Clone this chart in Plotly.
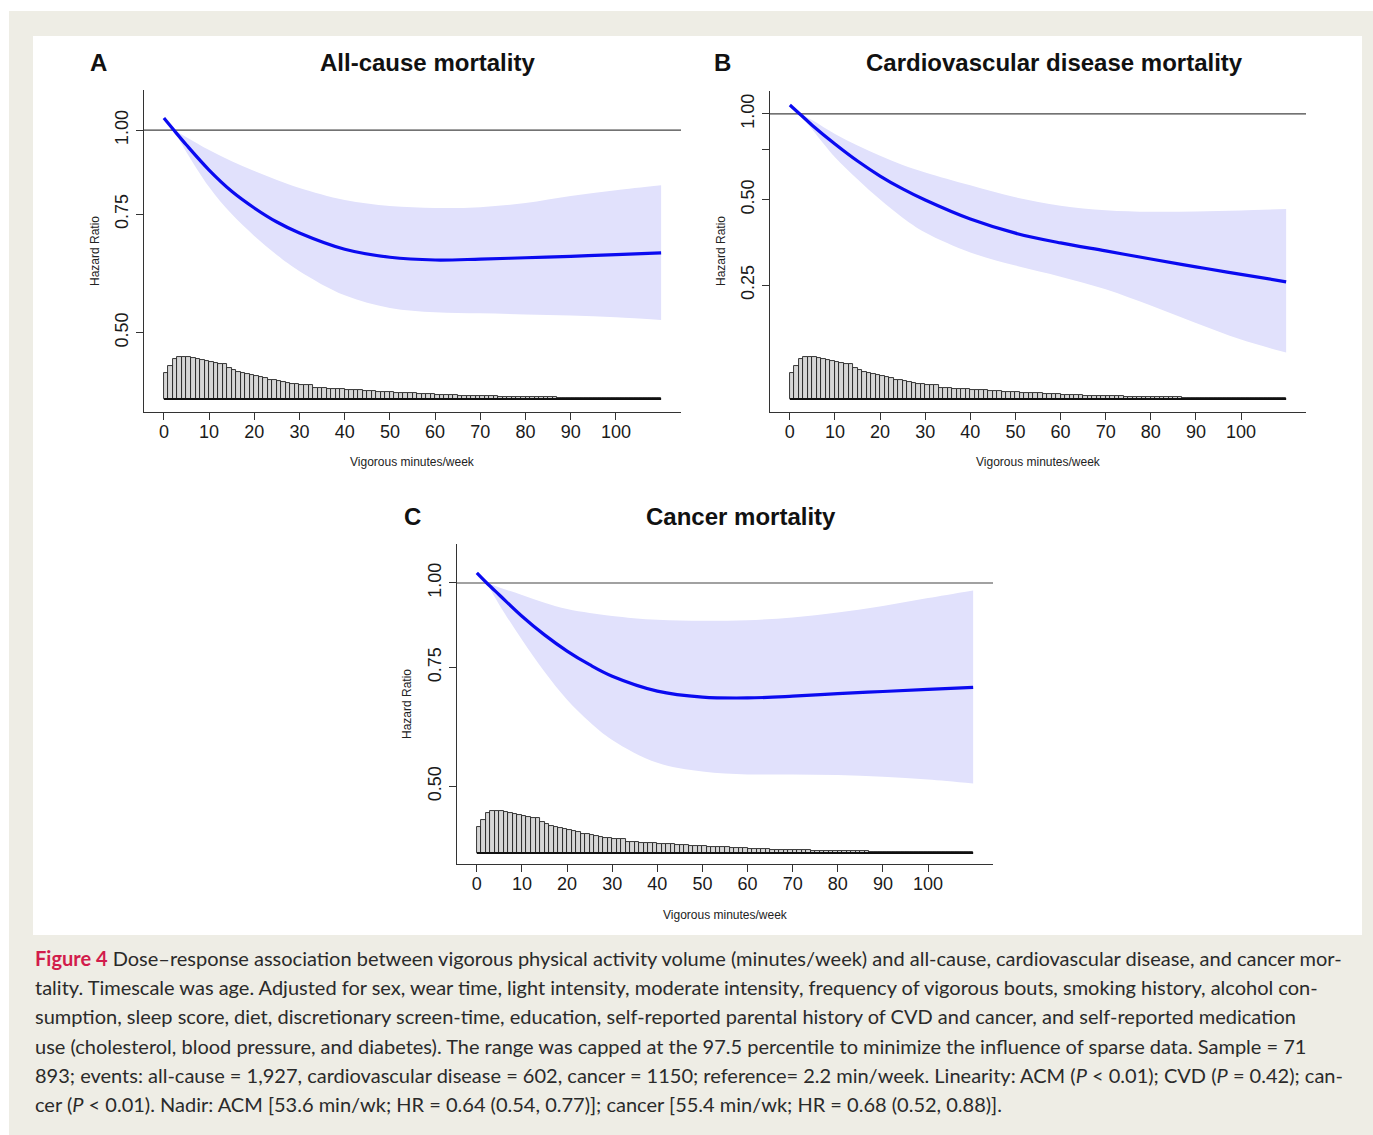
import math
import plotly.graph_objects as go

# ---------------- data ----------------
X_GRID = [0, 2.2, 5, 10, 15, 20, 25, 30, 40, 50, 60, 70, 80, 90, 100, 110]
CI_GRID = [2.2, 5, 10, 15, 20, 25, 30, 40, 50, 60, 70, 80, 90, 100, 110]

ACM_HR = [1.042, 1.000, 0.950, 0.872, 0.811, 0.766, 0.730, 0.703, 0.665, 0.647, 0.641, 0.643, 0.646, 0.649, 0.653, 0.657]
ACM_UPPER = [1.000, 0.976, 0.934, 0.899, 0.869, 0.843, 0.820, 0.787, 0.771, 0.766, 0.768, 0.779, 0.798, 0.814, 0.828]
ACM_LOWER = [1.000, 0.927, 0.823, 0.750, 0.696, 0.652, 0.617, 0.568, 0.544, 0.536, 0.534, 0.532, 0.530, 0.527, 0.522]

CVD_HR = [1.075, 1.000, 0.911, 0.784, 0.683, 0.605, 0.545, 0.498, 0.427, 0.381, 0.352, 0.330, 0.309, 0.290, 0.273, 0.257]
CVD_UPPER = [1.000, 0.950, 0.850, 0.775, 0.713, 0.662, 0.623, 0.561, 0.509, 0.476, 0.459, 0.453, 0.454, 0.458, 0.463]
CVD_LOWER = [1.000, 0.880, 0.705, 0.590, 0.500, 0.432, 0.383, 0.326, 0.293, 0.268, 0.242, 0.212, 0.184, 0.161, 0.145]

CANCER_HR = [1.035, 1.000, 0.960, 0.893, 0.838, 0.793, 0.757, 0.728, 0.692, 0.678, 0.676, 0.680, 0.686, 0.691, 0.696, 0.701]
CANCER_UPPER = [1.000, 0.985, 0.960, 0.935, 0.915, 0.903, 0.894, 0.882, 0.879, 0.881, 0.889, 0.904, 0.925, 0.950, 0.975]
CANCER_LOWER = [1.000, 0.928, 0.824, 0.739, 0.672, 0.623, 0.586, 0.542, 0.526, 0.521, 0.521, 0.520, 0.517, 0.512, 0.505]

# distribution of vigorous minutes/week (1-min bins, relative frequency)
HIST_HEIGHTS = [
    78, 98, 120, 124, 125, 125, 123, 118, 116, 113,
    110, 108, 103, 105, 93, 86, 81, 76, 75, 70,
    68, 66, 62, 58, 56, 54, 51, 48, 45, 44,
    42, 43, 43, 34, 33, 32, 31, 30, 30, 29,
    28, 27, 26, 26, 25, 24, 23, 22, 21, 20,
    20, 19, 18, 18, 17, 17, 16, 15, 15, 14,
    13, 12, 12, 11, 11, 10, 10, 10, 9, 9,
    9, 8, 8, 8, 7, 7, 7, 7, 6, 6,
    6, 6, 5, 5, 5, 5, 5, 4, 4, 4,
    4, 4, 4, 3, 3, 3, 3, 3, 3, 3,
    3, 3, 2, 3, 2, 2, 3, 2, 2, 2,
]
BIN_WIDTH = 1

X_TICKS = [0, 10, 20, 30, 40, 50, 60, 70, 80, 90, 100]
Y_TICKS_AC = [0.50, 0.75, 1.00]
Y_TICKTEXT_AC = ["0.50", "0.75", "1.00"]
Y_TICKS_B = [0.25, 0.50, 0.75, 1.00]
Y_TICKTEXT_B = ["0.25", "0.50", "", "1.00"]
REF_HR = 1.0

PANEL_LETTERS = ["A", "B", "C"]
PANEL_TITLES = ["All-cause mortality", "Cardiovascular disease mortality", "Cancer mortality"]
X_TITLE = "Vigorous minutes/week"
Y_TITLE = "Hazard Ratio"

CAPTION_LINES = [
    "<b><span style='color:#d21c4b'>Figure 4</span></b> Dose–response association between vigorous physical activity volume (minutes/week) and all-cause, cardiovascular disease, and cancer mor-",
    "tality. Timescale was age. Adjusted for sex, wear time, light intensity, moderate intensity, frequency of vigorous bouts, smoking history, alcohol con-",
    "sumption, sleep score, diet, discretionary screen-time, education, self-reported parental history of CVD and cancer, and self-reported medication",
    "use (cholesterol, blood pressure, and diabetes). The range was capped at the 97.5 percentile to minimize the influence of sparse data. Sample = 71",
    "893; events: all-cause = 1,927, cardiovascular disease = 602, cancer = 1150; reference= 2.2 min/week. Linearity: ACM (<i>P</i> &lt; 0.01); CVD (<i>P</i> = 0.42); can-",
    "cer (<i>P</i> &lt; 0.01). Nadir: ACM [53.6 min/wk; HR = 0.64 (0.54, 0.77)]; cancer [55.4 min/wk; HR = 0.68 (0.52, 0.88)].",
]

# ---------------- layout geometry ----------------
W, H = 1373, 1135
def fx(p):
    return p / W
def fy(p):
    return 1 - p / H

# plot rectangles in px: left, top, right, bottom ; histogram baseline px ; y limits (HR)
PANELS = [
    dict(rect=(144, 90, 681, 412), base=399, ylim=(0.381, 1.147)),
    dict(rect=(770, 91, 1306, 412), base=399, ylim=(0.0896, 1.204)),
    dict(rect=(457, 544, 993, 864), base=853, ylim=(0.384, 1.142)),
]
HIST_PX_PER_UNIT = 42 / 125.0

LABEL_POS = [  # letter, title, y-title, x-title (px)
    dict(letter=(98, 62), title=(428, 62), ytitle=(95, 251), xtitle=(412, 462)),
    dict(letter=(723, 62), title=(1054, 62), ytitle=(721, 251), xtitle=(1038, 462)),
    dict(letter=(412, 516), title=(741, 516), ytitle=(407, 704), xtitle=(725, 915)),
]

SERIES = [
    (ACM_HR, ACM_UPPER, ACM_LOWER, Y_TICKS_AC, Y_TICKTEXT_AC),
    (CVD_HR, CVD_UPPER, CVD_LOWER, Y_TICKS_B, Y_TICKTEXT_B),
    (CANCER_HR, CANCER_UPPER, CANCER_LOWER, Y_TICKS_AC, Y_TICKTEXT_AC),
]

x_min, x_max = X_GRID[0], X_GRID[-1]
pad = 0.04 * (x_max - x_min)
X_RANGE = [x_min - pad, x_max + pad]

BAND = "#e1e1fc"
CURVE = "#0a0af0"
AXIS = "#333333"
TXT = "#1a1a1a"
FONT = "Liberation Sans, Arial, sans-serif"

fig = go.Figure()
layout = dict()
annotations = []

bin_centers = [i * BIN_WIDTH + BIN_WIDTH / 2 for i in range(len(HIST_HEIGHTS))]
hist_edges = [0, len(HIST_HEIGHTS) * BIN_WIDTH]

for k, (panel, ser, pos) in enumerate(zip(PANELS, SERIES, LABEL_POS)):
    hr, up, lo, yt, ytt = ser
    l, t, r, b = panel["rect"]
    xa = "x" if k == 0 else f"x{k+1}"
    ya = "y" if k == 0 else f"y{2*k+1}"
    yh = f"y{2*k+2}"
    xname = "xaxis" if k == 0 else f"xaxis{k+1}"
    yname = "yaxis" if k == 0 else f"yaxis{2*k+1}"
    hname = f"yaxis{2*k+2}"

    # CI band
    fig.add_trace(go.Scatter(x=CI_GRID, y=lo, xaxis=xa, yaxis=ya, mode="lines",
                             line=dict(width=0, color=BAND, shape="spline", smoothing=1.0),
                             showlegend=False, hoverinfo="skip"))
    fig.add_trace(go.Scatter(x=CI_GRID, y=up, xaxis=xa, yaxis=ya, mode="lines",
                             line=dict(width=0, color=BAND, shape="spline", smoothing=1.0),
                             fill="tonexty", fillcolor=BAND,
                             showlegend=False, hoverinfo="skip"))
    # reference line
    fig.add_trace(go.Scatter(x=X_RANGE, y=[REF_HR, REF_HR], xaxis=xa, yaxis=ya, mode="lines",
                             line=dict(width=1.2, color="#444444"), showlegend=False,
                             hoverinfo="skip", cliponaxis=False))
    # fitted curve
    fig.add_trace(go.Scatter(x=X_GRID, y=hr, xaxis=xa, yaxis=ya, mode="lines",
                             line=dict(width=3.2, color=CURVE, shape="spline", smoothing=1.0),
                             showlegend=False))
    # histogram
    fig.add_trace(go.Bar(x=bin_centers, y=HIST_HEIGHTS, width=BIN_WIDTH, xaxis=xa, yaxis=yh,
                         marker=dict(color="#d6d6d6", line=dict(color="#222222", width=0.9)),
                         showlegend=False))
    fig.add_trace(go.Scatter(x=hist_edges, y=[0, 0], xaxis=xa, yaxis=yh, mode="lines",
                             line=dict(color="#111111", width=2), showlegend=False))

    ylo, yhi = panel["ylim"]
    layout[xname] = dict(domain=[fx(l), fx(r)], anchor=ya, range=X_RANGE,
                         showline=True, linecolor=AXIS, linewidth=1.2, mirror=False,
                         ticks="outside", ticklen=7, tickcolor=AXIS, tickwidth=1.2,
                         tickvals=X_TICKS, showgrid=False, zeroline=False,
                         tickfont=dict(family=FONT, size=18, color=TXT),
                         ticklabelstandoff=-4)
    layout[yname] = dict(domain=[fy(b), fy(t)], anchor=xa, type="log",
                         range=[math.log10(ylo), math.log10(yhi)],
                         showline=True, linecolor=AXIS, linewidth=1.2,
                         ticks="outside", ticklen=7, tickcolor=AXIS, tickwidth=1.2,
                         tickvals=yt, ticktext=ytt, tickangle=-90,
                         showgrid=False, zeroline=False,
                         tickfont=dict(family=FONT, size=18, color=TXT),
                         ticklabelstandoff=1)
    base = panel["base"]
    h_lo = -(b - base) / HIST_PX_PER_UNIT
    h_hi = (base - t) / HIST_PX_PER_UNIT
    layout[hname] = dict(overlaying=ya, anchor=xa, range=[h_lo, h_hi], visible=False,
                         showgrid=False, zeroline=False)

    annotations += [
        dict(text=f"<b>{PANEL_LETTERS[k]}</b>", x=fx(pos["letter"][0]), y=fy(pos["letter"][1]),
             xref="paper", yref="paper", showarrow=False, xanchor="center", yanchor="middle",
             font=dict(family=FONT, size=24, color="#111111")),
        dict(text=f"<b>{PANEL_TITLES[k]}</b>", x=fx(pos["title"][0]), y=fy(pos["title"][1]),
             xref="paper", yref="paper", showarrow=False, xanchor="center", yanchor="middle",
             font=dict(family=FONT, size=24, color="#111111")),
        dict(text=Y_TITLE, x=fx(pos["ytitle"][0]), y=fy(pos["ytitle"][1]), textangle=-90,
             xref="paper", yref="paper", showarrow=False, xanchor="center", yanchor="middle",
             font=dict(family=FONT, size=12, color="#222222")),
        dict(text=X_TITLE, x=fx(pos["xtitle"][0]), y=fy(pos["xtitle"][1]),
             xref="paper", yref="paper", showarrow=False, xanchor="center", yanchor="middle",
             font=dict(family=FONT, size=12, color="#222222")),
    ]

CAPTION_Y = [958, 987, 1016, 1046, 1075, 1104]
for line, yy in zip(CAPTION_LINES, CAPTION_Y):
    annotations.append(dict(text=line, x=fx(33), y=fy(yy), xref="paper", yref="paper",
                            showarrow=False, xanchor="left", yanchor="middle", align="left",
                            font=dict(family="Lato, Noto Sans, sans-serif", size=20, color="#2a2a2a")))

shapes = [
    dict(type="rect", xref="paper", yref="paper", x0=fx(9), x1=1, y0=0, y1=fy(11),
         fillcolor="#eeede5", line=dict(width=0), layer="below"),
    dict(type="rect", xref="paper", yref="paper", x0=fx(33), x1=fx(1362), y0=fy(935), y1=fy(36),
         fillcolor="#ffffff", line=dict(width=0), layer="below"),
]

fig.update_layout(
    width=W, height=H, autosize=False,
    margin=dict(l=0, r=0, t=0, b=0, pad=0),
    paper_bgcolor="#ffffff", plot_bgcolor="rgba(0,0,0,0)",
    showlegend=False, bargap=0,
    annotations=annotations, shapes=shapes,
    **layout,
)

fig.write_html("out.html")
